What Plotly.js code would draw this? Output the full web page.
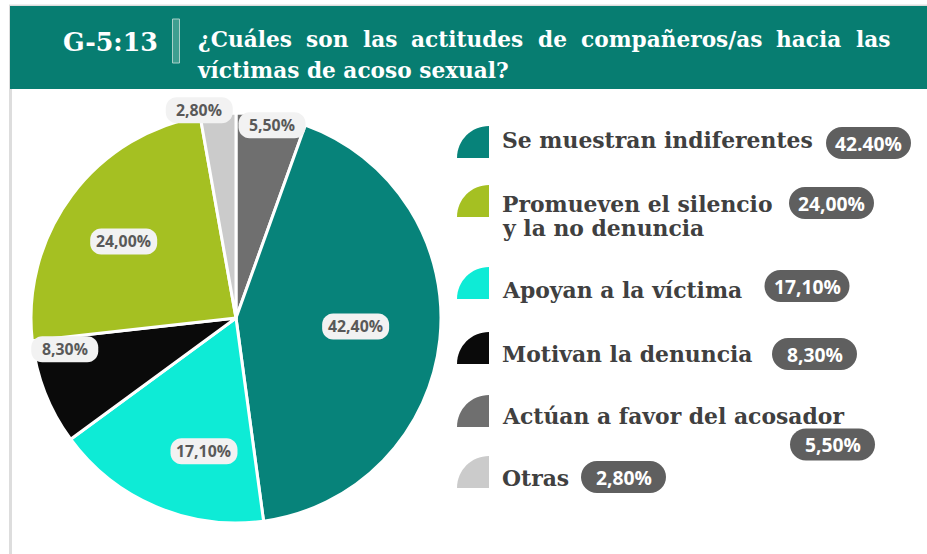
<!DOCTYPE html>
<html>
<head>
<meta charset="utf-8">
<script src="https://cdn.plot.ly/plotly-3.0.1.min.js"></script>
<style>html,body{margin:0;padding:0;background:#fff;}#chart{width:927px;height:554px;}</style>
</head>
<body>
<div id="chart"></div>
<script>
// ---------------- DATA ----------------
const categories = ["Actúan a favor del acosador", "Se muestran indiferentes", "Apoyan a la víctima",
                    "Motivan la denuncia", "Promueven el silencio y la no denuncia", "Otras"];
const values = [5.5, 42.4, 17.1, 8.3, 24.0, 2.8];
const sliceLabels = ["5,50%", "42,40%", "17,10%", "8,30%", "24,00%", "2,80%"];
const legendOrder = [1, 4, 2, 3, 0, 5];
const legendLabels = ["Se muestran indiferentes", "Promueven el silencio<br>y la no denuncia", "Apoyan a la víctima",
                      "Motivan la denuncia", "Actúan a favor del acosador", "Otras"];
const legendBadges = ["42.40%", "24,00%", "17,10%", "8,30%", "5,50%", "2,80%"];
const chartCode = "G-5:13";
const titleLines = ["¿Cuáles son las actitudes de compañeros/as hacia las", "víctimas de acoso sexual?"];

// ---------------- STYLE ----------------
const W = 927, H = 554;
const colors = ["#6f6f6f", "#07837A", "#0EEBD6", "#0A0A0A", "#A5C022", "#CBCBCB"];
const headerColor = "#077D71";
const pieDomX = [31 / W, 441 / W];
const pieDomY = [1 - 523 / H, 1 - 113 / H];
const labelRadiusFrac = [0.956, 0.585, 0.668, 0.849, 0.663, 1.029];
const labelAngleShift = [0.7, -2, -9.5, 11, -2.5, -5];
const legendIconTop = [126, 185, 267, 332, 395, 456];
const legendTextY = [140, 203.5, 289.5, 353.5, 415.5, 477.5];
const legendLineGap = 24;
const legendBadgeX = [868.5, 831.5, 807, 814.5, 832.5, 623.5];
const legendBadgeY = [143, 203, 286, 354, 444.5, 477];
const serif = "DejaVu Serif";
const sans = "Open Sans";

const fx = x => x / W, fy = y => 1 - y / H;
const P = (x, y) => fx(x).toFixed(5) + "," + fy(y).toFixed(5);

const cv = document.createElement("canvas").getContext("2d");
function textW(t, size, font, weight) { cv.font = (weight || "normal") + " " + size + "px '" + font + "'"; return cv.measureText(t).width; }
function fitSize(t, target, font, weight) { return target / textW(t, 100, font, weight) * 100; }

function pill(cx, cy, w, h, r) {
  const k = 0.5523, x0 = cx - w / 2, x1 = cx + w / 2, y0 = cy - h / 2, y1 = cy + h / 2;
  return "M" + P(x0 + r, y0) + " L" + P(x1 - r, y0) +
    " C" + P(x1 - r + r * k, y0) + " " + P(x1, y0 + r - r * k) + " " + P(x1, y0 + r) +
    " L" + P(x1, y1 - r) +
    " C" + P(x1, y1 - r + r * k) + " " + P(x1 - r + r * k, y1) + " " + P(x1 - r, y1) +
    " L" + P(x0 + r, y1) +
    " C" + P(x0 + r - r * k, y1) + " " + P(x0, y1 - r + r * k) + " " + P(x0, y1 - r) +
    " L" + P(x0, y0 + r) +
    " C" + P(x0, y0 + r - r * k) + " " + P(x0 + r - r * k, y0) + " " + P(x0 + r, y0) + " Z";
}
function quarter(left, top, s) {
  const k = 0.5523, cx = left + s, cy = top + s;
  return "M" + P(left, cy) + " C" + P(left, cy - s * k) + " " + P(cx - s * k, top) + " " + P(cx, top) +
    " L" + P(cx, cy) + " Z";
}

const shapes = [], annotations = [];

// panel borders + header
shapes.push({type: "rect", xref: "paper", yref: "paper", x0: fx(9), x1: fx(12), y0: fy(554), y1: fy(5), fillcolor: "#dddddd", line: {width: 0}});
shapes.push({type: "rect", xref: "paper", yref: "paper", x0: fx(9), x1: fx(927), y0: fy(6), y1: fy(4.5), fillcolor: "#dddddd", line: {width: 0}});
shapes.push({type: "rect", xref: "paper", yref: "paper", x0: fx(10), x1: fx(927), y0: fy(89), y1: fy(6), fillcolor: headerColor, line: {width: 0}});
shapes.push({type: "rect", xref: "paper", yref: "paper", x0: fx(172.5), x1: fx(179.5), y0: fy(63), y1: fy(19), fillcolor: "#3E9E90", line: {color: "#A9D0C9", width: 1}});

const codeSize = fitSize(chartCode, 95, serif, "bold");
annotations.push({xref: "paper", yref: "paper", x: fx(110), y: fy(42), xanchor: "center", yanchor: "middle",
  text: "<b>" + chartCode + "</b>", showarrow: false, font: {family: serif, size: codeSize, color: "#ffffff"}});

// Title: line 2 sets the size, line 1 justified across the header
let tSize = fitSize(titleLines[1], 311, serif, "bold");
const words = titleLines[0].split(" ");
let ww = words.map(w => textW(w, tSize, serif, "bold"));
let totalW = ww.reduce((a, b) => a + b, 0);
const minGap = textW(" ", tSize, serif, "bold");
if (totalW + minGap * (words.length - 1) > 692) {
  tSize = tSize * 692 / (totalW + minGap * (words.length - 1));
  ww = words.map(w => textW(w, tSize, serif, "bold"));
  totalW = ww.reduce((a, b) => a + b, 0);
}
const gap = (890 - 198 - totalW) / (words.length - 1);
let xx = 198;
words.forEach((w, i) => {
  annotations.push({xref: "paper", yref: "paper", x: fx(xx + ww[i] / 2), y: fy(39), xanchor: "center", yanchor: "middle",
    text: "<b>" + w + "</b>", showarrow: false, font: {family: serif, size: tSize, color: "#ffffff"}});
  xx += ww[i] + gap;
});
const l2w = textW(titleLines[1], tSize, serif, "bold");
annotations.push({xref: "paper", yref: "paper", x: fx(198 + l2w / 2), y: fy(70), xanchor: "center", yanchor: "middle",
  text: "<b>" + titleLines[1] + "</b>", showarrow: false, font: {family: serif, size: tSize, color: "#ffffff"}});

// Pie labels computed from data
const total = values.reduce((a, b) => a + b, 0);
const pcx = (pieDomX[0] + pieDomX[1]) / 2 * W;
const pcy = (1 - (pieDomY[0] + pieDomY[1]) / 2) * H;
const pR = Math.min((pieDomX[1] - pieDomX[0]) * W, (pieDomY[1] - pieDomY[0]) * H) / 2;
let cum = 0;
const pieLblSize = fitSize("42,40%", 55, sans, "bold");
values.forEach((v, i) => {
  const ang = ((cum + v / 2) / total * 360 + labelAngleShift[i]) * Math.PI / 180;
  cum += v;
  const r = pR * labelRadiusFrac[i];
  const lx = pcx + r * Math.sin(ang), ly = pcy - r * Math.cos(ang);
  shapes.push({type: "path", xref: "paper", yref: "paper", path: pill(lx, ly, 67, 26, 11), fillcolor: "#F2F2F2", line: {width: 0}});
  annotations.push({xref: "paper", yref: "paper", x: fx(lx), y: fy(ly), xanchor: "center", yanchor: "middle",
    text: "<b>" + sliceLabels[i] + "</b>", showarrow: false, font: {family: sans, size: pieLblSize, color: "#595959"}});
});

// Custom legend
const legSize = fitSize("Se muestran indiferentes", 311, serif, "bold");
const badgeSize = fitSize("42.40%", 67, sans, "bold");
legendOrder.forEach((idx, j) => {
  const top = legendIconTop[j];
  shapes.push({type: "path", xref: "paper", yref: "paper", path: quarter(457, top, 32), fillcolor: colors[idx], line: {width: 0}});
  const lines = legendLabels[j].split("<br>");
  lines.forEach((ln, k) => {
    annotations.push({xref: "paper", yref: "paper", x: fx(500), y: fy(legendTextY[j] + k * legendLineGap), xanchor: "left", yanchor: "middle",
      text: "<b>" + ln + "</b>", showarrow: false, font: {family: serif, size: legSize, color: "#404040"}});
  });
  shapes.push({type: "path", xref: "paper", yref: "paper", path: pill(legendBadgeX[j], legendBadgeY[j], 85, 32, 16), fillcolor: "#5F5F5F", line: {width: 0}});
  annotations.push({xref: "paper", yref: "paper", x: fx(legendBadgeX[j]), y: fy(legendBadgeY[j]), xanchor: "center", yanchor: "middle",
    text: "<b>" + legendBadges[j] + "</b>", showarrow: false, font: {family: sans, size: badgeSize, color: "#ffffff"}});
});

const trace = {
  type: "pie", labels: categories, values: values, sort: false, direction: "clockwise", rotation: 0,
  marker: {colors: colors, line: {color: "#ffffff", width: 3}},
  textinfo: "none", hoverinfo: "label+percent", showlegend: false,
  domain: {x: pieDomX, y: pieDomY}
};

const layout = {
  width: W, height: H, margin: {l: 0, r: 0, t: 0, b: 0},
  paper_bgcolor: "#ffffff", plot_bgcolor: "#ffffff", showlegend: false,
  shapes: shapes, annotations: annotations
};
Plotly.newPlot("chart", [trace], layout, {displayModeBar: false, responsive: false});
</script>
</body>
</html>
